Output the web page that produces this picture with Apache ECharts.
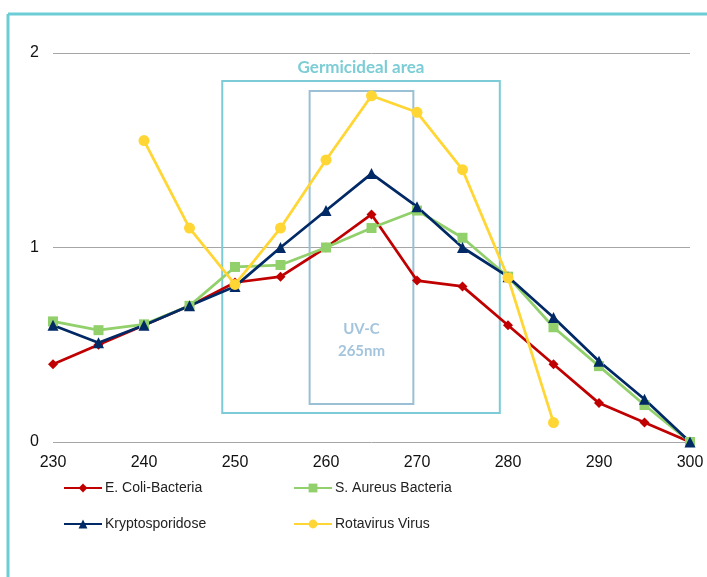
<!DOCTYPE html>
<html>
<head>
<meta charset="utf-8">
<script src="https://cdn.jsdelivr.net/npm/echarts@6/dist/echarts.min.js"></script>
<style>html,body{margin:0;padding:0;background:#fff}#c{width:707px;height:577px}</style>
</head>
<body>
<div id="c"></div>
<script>
var wavelengths = [230, 235, 240, 245, 250, 255, 260, 265, 270, 275, 280, 285, 290, 295, 300];
var eColi     = [0.40, 0.50, 0.60, 0.70, 0.82, 0.85, 1.00, 1.17, 0.83, 0.80, 0.60, 0.40, 0.20, 0.10, 0.00];
var sAureus   = [0.62, 0.575, 0.605, 0.70, 0.90, 0.91, 1.00, 1.10, 1.19, 1.05, 0.85, 0.59, 0.39, 0.19, 0.00];
var krypto    = [0.60, 0.51, 0.60, 0.70, 0.80, 1.00, 1.19, 1.38, 1.21, 1.00, 0.85, 0.64, 0.415, 0.22, 0.00];
var rotavirus = [null, null, 1.55, 1.10, 0.81, 1.10, 1.45, 1.78, 1.695, 1.40, 0.845, 0.10, null, null, null];
var seriesNames = ['E. Coli-Bacteria', 'S. Aureus Bacteria', 'Kryptosporidose', 'Rotavirus Virus'];
var yTicks = [0, 1, 2];
var germicidalArea = [[248.6, 1.856], [279.1, 0.149]];
var uvcArea = [[258.2, 1.805], [269.6, 0.195]];
var germicidalLabel = 'Germicideal area';
var uvcLabel = 'UV-C\n265nm';

function pairs(vals) {
  return wavelengths.map(function (w, i) { return [w, vals[i]]; });
}
var chart = echarts.init(document.getElementById('c'), null, {renderer: 'canvas'});
var font = 'Liberation Sans, Arial, sans-serif';
function mk(name, vals, color, symbol, size) {
  return {
    name: name, type: 'line', data: pairs(vals), connectNulls: false,
    symbol: symbol, symbolSize: size,
    lineStyle: {color: color, width: 2.75},
    itemStyle: {color: color},
    emphasis: {disabled: true}, animation: false
  };
}
var s = [
  mk(seriesNames[0], eColi, '#c00000', 'diamond', 10),
  mk(seriesNames[1], sAureus, '#92d06b', 'rect', 10),
  mk(seriesNames[2], krypto, '#002966', 'triangle', 11),
  mk(seriesNames[3], rotavirus, '#ffd633', 'circle', 11)
];
s[0].markArea = {
  silent: true,
  z: 1,
  data: [
    [{coord: germicidalArea[0], name: germicidalLabel,
      label: {show: true, position: 'top', distance: 4, color: '#7ccdd6', fontSize: 17, fontWeight: 'bold', fontFamily: 'Lato, Open Sans, sans-serif'},
      itemStyle: {color: 'rgba(0,0,0,0)', borderColor: '#7ccbd6', borderWidth: 2}},
     {coord: germicidalArea[1]}],
    [{coord: uvcArea[0], name: uvcLabel,
      label: {show: true, position: 'insideBottom', distance: 43, color: '#a3c4dc', fontSize: 15, lineHeight: 22, fontWeight: 'bold', fontFamily: 'Lato, Open Sans, sans-serif', align: 'center'},
      itemStyle: {color: 'rgba(0,0,0,0)', borderColor: '#9bbfd4', borderWidth: 2}},
     {coord: uvcArea[1]}]
  ]
};
var legendCommon = {
  orient: 'vertical', itemWidth: 38, itemHeight: 11, itemGap: 22,
  textStyle: {fontSize: 14, fontFamily: font, color: '#222', padding: [0, 0, 0, -2]},
  top: 481, padding: 0
};
chart.setOption({
  animation: false,
  backgroundColor: '#fff',
  grid: {left: 53, right: 17, top: 53, bottom: 135, containLabel: false},
  xAxis: {
    type: 'value', min: 230, max: 300, interval: 10,
    axisLine: {show: false}, axisTick: {show: false}, splitLine: {show: false},
    axisLabel: {fontSize: 16, fontFamily: font, color: '#111', margin: 13}
  },
  yAxis: {
    type: 'value', min: yTicks[0], max: yTicks[yTicks.length - 1], interval: 1,
    axisLine: {show: false}, axisTick: {show: false},
    splitLine: {lineStyle: {color: '#a6a6a6', width: 1}},
    axisLabel: {fontSize: 16, fontFamily: font, color: '#111', margin: 14}
  },
  legend: [
    Object.assign({left: 63, data: [seriesNames[0], seriesNames[2]]}, legendCommon),
    Object.assign({left: 293, data: [seriesNames[1], seriesNames[3]]}, legendCommon)
  ],
  graphic: [
    {type: 'line', shape: {x1: 8, y1: 14, x2: 707, y2: 14}, style: {stroke: '#6ccdd6', lineWidth: 3}},
    {type: 'line', shape: {x1: 8, y1: 14, x2: 8, y2: 577}, style: {stroke: '#6ccdd6', lineWidth: 3}}
  ],
  series: s
});
</script>
</body>
</html>
